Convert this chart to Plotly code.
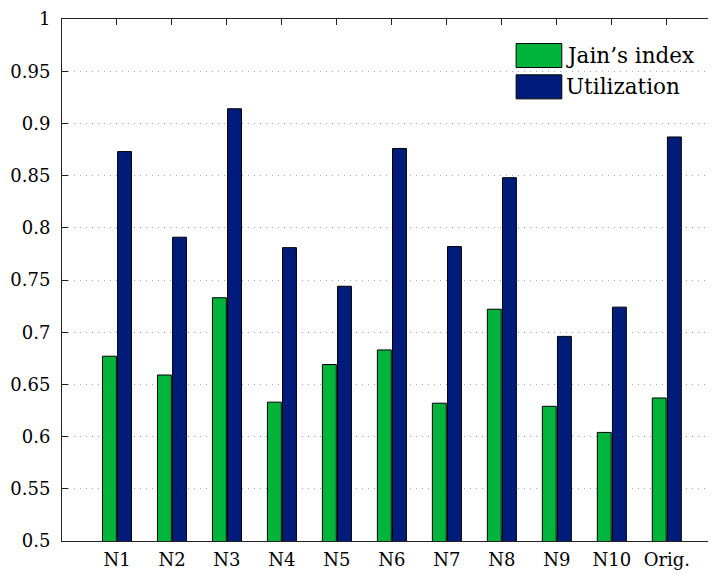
import plotly.graph_objects as go

categories = ["N1", "N2", "N3", "N4", "N5", "N6", "N7", "N8", "N9", "N10", "Orig."]
jain_index = [0.677, 0.659, 0.733, 0.633, 0.669, 0.683, 0.632, 0.722, 0.629, 0.604, 0.637]
utilization = [0.873, 0.791, 0.914, 0.781, 0.744, 0.876, 0.782, 0.848, 0.696, 0.724, 0.887]
series_names = ["Jain\u2019s index", "Utilization"]
y_ticks = [0.5, 0.55, 0.6, 0.65, 0.7, 0.75, 0.8, 0.85, 0.9, 0.95, 1]
y_labels = ["0.5", "0.55", "0.6", "0.65", "0.7", "0.75", "0.8", "0.85", "0.9", "0.95", "1"]

GREEN = "#00b43c"
BLUE = "#001c7a"
FONT = "DejaVu Serif"
FONT_SIZE = 18

x = list(range(len(categories)))
fig = go.Figure()
fig.add_trace(go.Bar(x=x, y=jain_index, name=series_names[0], base=0,
                     marker=dict(color=GREEN, line=dict(color="black", width=1))))
fig.add_trace(go.Bar(x=x, y=utilization, name=series_names[1], base=0,
                     marker=dict(color=BLUE, line=dict(color="black", width=1))))

# hand-drawn legend (MATLAB style, big swatches)
legend_rows = [(GREEN, series_names[0], 0.930), (BLUE, series_names[1], 0.870)]
for color, label, yc in legend_rows:
    fig.add_shape(type="rect", xref="paper", yref="paper",
                  x0=0.686, x1=0.755, y0=yc - 0.023, y1=yc + 0.023,
                  fillcolor=color, line=dict(color="black", width=1))
    fig.add_annotation(xref="paper", yref="paper", x=0.759, y=yc, text=label,
                       showarrow=False, xanchor="left", yanchor="middle",
                       font=dict(family=FONT, size=21.5, color="black"))

fig.update_layout(
    width=716, height=574,
    margin=dict(l=54, r=0, t=11, b=41),
    paper_bgcolor="white", plot_bgcolor="white",
    barmode="group", bargap=0.45, bargroupgap=0.08,
    showlegend=False,
    font=dict(family=FONT, size=FONT_SIZE, color="black"),
)
fig.update_xaxes(range=[-1, 11.04], tickvals=x, ticktext=categories,
                 ticks="inside", ticklen=6, tickcolor="#222",
                 showline=True, linecolor="#222", linewidth=1, mirror="ticks",
                 showgrid=False, zeroline=False, ticklabeloverflow="allow",
                 ticklabelstandoff=2)
fig.update_yaxes(range=[0.5, 1], tickvals=y_ticks, ticktext=y_labels,
                 ticks="inside", ticklen=6, tickcolor="#222",
                 showline=True, linecolor="#222", linewidth=1,
                 showgrid=True, gridcolor="#a8a8a8", griddash="1px,5px", gridwidth=1,
                 zeroline=False, ticklabeloverflow="allow", ticklabelstandoff=7)

fig.write_html("out.html")
